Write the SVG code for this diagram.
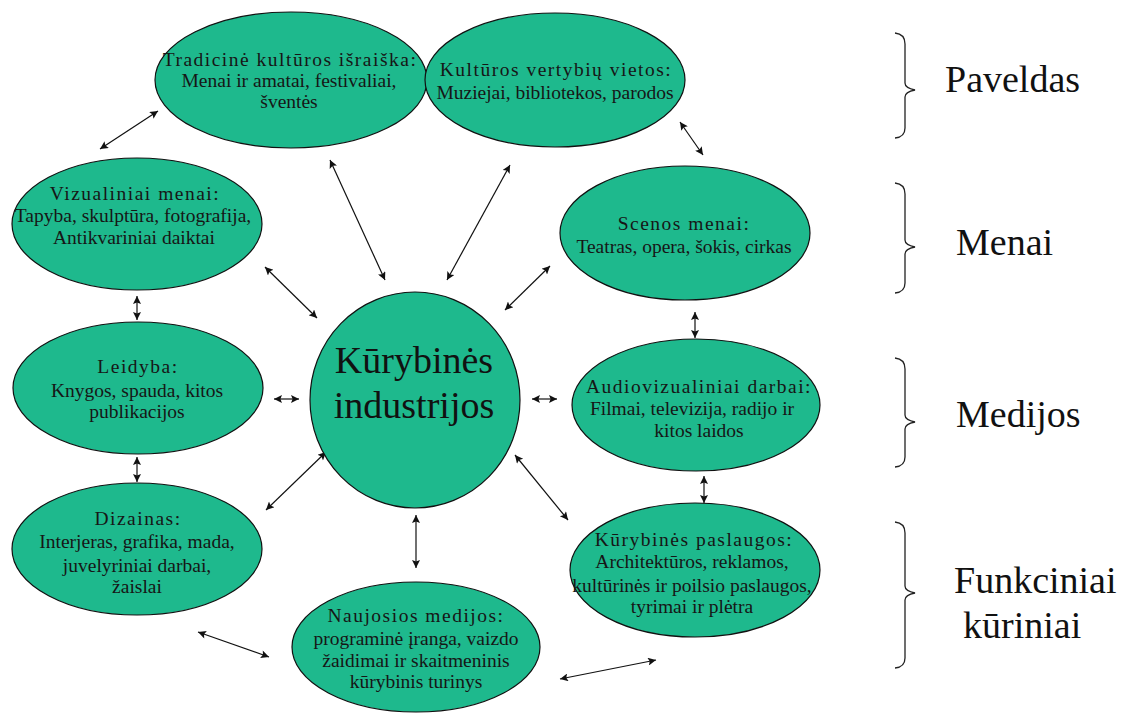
<svg xmlns="http://www.w3.org/2000/svg" width="1122" height="713" viewBox="0 0 1122 713">
<style>
.node{fill:#1eb98d;stroke:#111;stroke-width:1.2}
.t{font-family:"Liberation Serif","Times New Roman",serif;font-size:19.5px;fill:#161616;text-anchor:middle}
.h{letter-spacing:1.5px}
.big{font-family:"Liberation Serif","Times New Roman",serif;font-size:38px;fill:#111;text-anchor:middle}
.lab{font-family:"Liberation Serif","Times New Roman",serif;font-size:38px;fill:#111}
.c{stroke:#111;stroke-width:1.2;fill:none;marker-start:url(#ah);marker-end:url(#ah)}
.br{stroke:#222;stroke-width:1.3;fill:none}
</style>
<defs>
<marker id="ah" viewBox="0 0 10 10" refX="10" refY="5" markerWidth="10" markerHeight="8" markerUnits="userSpaceOnUse" orient="auto-start-reverse">
<path d="M0,0 L10,5 L0,10 L2,5 z" fill="#111"/>
</marker>
</defs>
<rect width="1122" height="713" fill="#fff"/>

<g id="connectors">
<line class="c" x1="100" y1="149" x2="158" y2="111"/>
<line class="c" x1="680" y1="122" x2="703" y2="155"/>
<line class="c" x1="330" y1="160" x2="385" y2="280"/>
<line class="c" x1="510" y1="165" x2="447" y2="280"/>
<line class="c" x1="265" y1="267" x2="317" y2="318"/>
<line class="c" x1="550" y1="266" x2="505" y2="310"/>
<line class="c" x1="137" y1="296" x2="137" y2="320"/>
<line class="c" x1="274" y1="399" x2="299" y2="399"/>
<line class="c" x1="532" y1="399" x2="557" y2="399"/>
<line class="c" x1="695" y1="312" x2="695" y2="338"/>
<line class="c" x1="137" y1="457" x2="137" y2="482"/>
<line class="c" x1="266" y1="510" x2="326" y2="452"/>
<line class="c" x1="515" y1="455" x2="568" y2="520"/>
<line class="c" x1="704" y1="476" x2="704" y2="503"/>
<line class="c" x1="416" y1="515" x2="416" y2="568"/>
<line class="c" x1="198" y1="632" x2="269" y2="657"/>
<line class="c" x1="560" y1="679" x2="656" y2="660"/>
</g>

<g id="n-tradicine">
<ellipse class="node" cx="291" cy="80" rx="136" ry="68"/>
<text class="t h" x="290" y="66">Tradicinė kultūros išraiška:</text>
<text class="t" x="289" y="87">Menai ir amatai, festivaliai,</text>
<text class="t" x="289" y="108">šventės</text>
</g>
<g id="n-kulturos">
<ellipse class="node" cx="555" cy="80" rx="130" ry="67"/>
<text class="t h" x="556" y="76">Kultūros vertybių vietos:</text>
<text class="t" x="555" y="99">Muziejai, bibliotekos, parodos</text>
</g>
<g id="n-vizualiniai">
<ellipse class="node" cx="137" cy="224" rx="125" ry="66"/>
<text class="t h" x="135" y="200">Vizualiniai menai:</text>
<text class="t" x="133" y="222">Tapyba, skulptūra, fotografija,</text>
<text class="t" x="134" y="244">Antikvariniai daiktai</text>
</g>
<g id="n-scenos">
<ellipse class="node" cx="685" cy="233" rx="125" ry="67"/>
<text class="t h" x="684" y="230">Scenos menai:</text>
<text class="t" x="684" y="253">Teatras, opera, šokis, cirkas</text>
</g>
<g id="n-leidyba">
<ellipse class="node" cx="138" cy="388" rx="125" ry="66"/>
<text class="t h" x="138" y="373">Leidyba:</text>
<text class="t" x="137" y="397">Knygos, spauda, kitos</text>
<text class="t" x="137" y="418">publikacijos</text>
</g>
<g id="n-centras">
<ellipse class="node" cx="415" cy="400" rx="105" ry="108"/>
<text class="big" x="414" y="373">Kūrybinės</text>
<text class="big" x="414" y="418">industrijos</text>
</g>
<g id="n-audio">
<ellipse class="node" cx="696" cy="405" rx="124" ry="66"/>
<text class="t h" x="699" y="393">Audiovizualiniai darbai:</text>
<text class="t" x="692" y="415">Filmai, televizija, radijo ir</text>
<text class="t" x="699" y="437">kitos laidos</text>
</g>
<g id="n-dizainas">
<ellipse class="node" cx="137" cy="549" rx="125" ry="66"/>
<text class="t h" x="138" y="525">Dizainas:</text>
<text class="t" x="137" y="548">Interjeras, grafika, mada,</text>
<text class="t" x="137" y="572">juvelyriniai darbai,</text>
<text class="t" x="137" y="593">žaislai</text>
</g>
<g id="n-paslaugos">
<ellipse class="node" cx="695" cy="570" rx="125" ry="67"/>
<text class="t h" x="694" y="546">Kūrybinės paslaugos:</text>
<text class="t" x="692" y="568">Architektūros, reklamos,</text>
<text class="t" x="692" y="592">kultūrinės ir poilsio paslaugos,</text>
<text class="t" x="692" y="613">tyrimai ir plėtra</text>
</g>
<g id="n-naujosios">
<ellipse class="node" cx="416" cy="647" rx="124" ry="65"/>
<text class="t h" x="416" y="622">Naujosios medijos:</text>
<text class="t" x="416" y="645">programinė įranga, vaizdo</text>
<text class="t" x="416" y="667">žaidimai ir skaitmeninis</text>
<text class="t" x="416" y="688">kūrybinis turinys</text>
</g>

<g id="braces">
<path class="br" d="M895,33 Q905,34 905,44 L905,83 Q905,88 915,90 Q905,92 905,97 L905,128 Q905,137 895,138"/>
<path class="br" d="M895,183 Q905,184 905,194 L905,240 Q905,245 915,247 Q905,249 905,254 L905,283 Q905,292 895,293"/>
<path class="br" d="M895,358 Q905,359 905,369 L905,415 Q905,420 915,422 Q905,424 905,429 L905,457 Q905,466 895,467"/>
<path class="br" d="M895,522 Q905,523 905,533 L905,586 Q905,591 915,593 Q905,595 905,600 L905,658 Q905,667 895,668"/>
</g>
<g id="labels">
<text class="lab" x="945" y="92">Paveldas</text>
<text class="lab" x="956" y="255">Menai</text>
<text class="lab" x="956" y="427">Medijos</text>
<text class="lab" x="954" y="593">Funkciniai</text>
<text class="lab" x="963" y="638">kūriniai</text>
</g>
</svg>
